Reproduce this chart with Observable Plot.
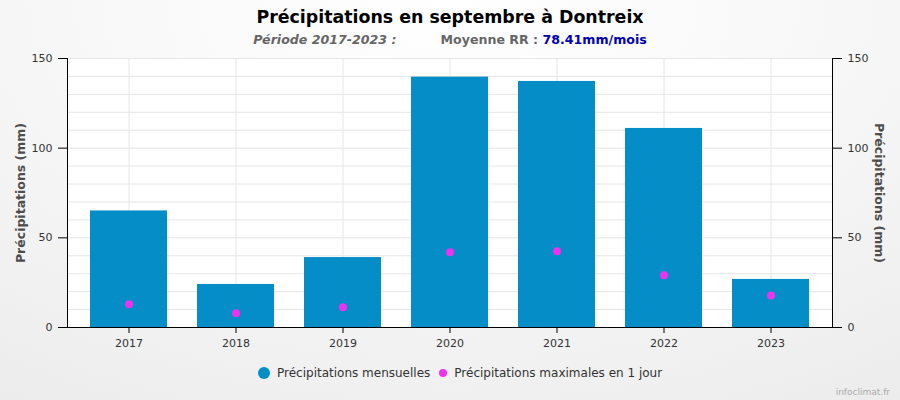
<!DOCTYPE html>
<html>
<head>
<meta charset="utf-8">
<script src="https://cdn.jsdelivr.net/npm/d3@7"></script>
<script src="https://cdn.jsdelivr.net/npm/@observablehq/plot@0.6"></script>
<style>
  html, body { margin: 0; padding: 0; }
  #chart {
    position: relative; width: 900px; height: 400px; overflow: hidden;
    background: radial-gradient(ellipse 90% 120% at 50% 0%, #ffffff 0%, #f8f8f8 45%, #ececec 100%);
    font-family: "DejaVu Sans", Verdana, sans-serif;
  }
  #title {
    position: absolute; left: 0; top: 7px; width: 900px; text-align: center;
    font-size: 17.4px; font-weight: bold; color: #000;
  }
  #subtitle {
    position: absolute; left: 0; top: 32px; width: 900px; text-align: center;
    font-size: 12.6px; font-weight: bold; color: #666;
  }
  #subtitle .per { font-style: italic; margin-right: 44px; }
  #subtitle .val { color: #0000b3; }
  #plot { position: absolute; left: 0; top: 0; }
  #legend {
    position: absolute; left: 258px; top: 365px; height: 16px;
    display: flex; align-items: center;
    font-size: 12px; color: #333; white-space: nowrap;
  }
  #legend .item { display: flex; align-items: center; margin-right: 9px; }
  #legend .sw { display: inline-block; border-radius: 50%; margin-right: 7px; }
  #credit {
    position: absolute; right: 10px; top: 387px; font-size: 9px; color: #aaa;
  }
</style>
</head>
<body>
<div id="chart">
  <div id="plot"></div>
  <div id="title">Précipitations en septembre à Dontreix</div>
  <div id="subtitle"><span class="per">Période 2017-2023 :</span>Moyenne RR : <span class="val">78.41mm/mois</span></div>
  <div id="legend"></div>
  <div id="credit">infoclimat.fr</div>
</div>
<script>
const years = ["2017", "2018", "2019", "2020", "2021", "2022", "2023"];
const monthly = [65, 24, 39, 139.6, 137.2, 111, 26.8];
const maxDaily = [13, 8, 11.3, 42, 42.5, 29.2, 17.8];
const seriesNames = ["Précipitations mensuelles", "Précipitations maximales en 1 jour"];
const seriesColors = ["#058DC7", "#EE33EE"];
const axisTitle = "Précipitations (mm)";
const yTicks = [0, 50, 100, 150];

const data = years.map((y, i) => ({year: y, monthly: monthly[i], max: maxDaily[i]}));

const chart = Plot.plot({
  width: 900,
  height: 400,
  marginTop: 58,
  marginBottom: 73,
  marginLeft: 67,
  marginRight: 68,
  style: {background: "transparent", fontFamily: "DejaVu Sans, Verdana, sans-serif", fontSize: "11px", color: "#333"},
  x: {type: "band", domain: years, paddingInner: 0.28, paddingOuter: 0.2, label: null},
  y: {domain: [0, 150], label: null},
  marks: [
    Plot.frame({fill: "white", stroke: null}),
    Plot.gridY(d3.range(0, 151, 10), {stroke: "#e6e6e6", strokeOpacity: 1}),
    Plot.gridX(years, {stroke: "#e6e6e6", strokeOpacity: 1}),
    Plot.barY(data, {x: "year", y: "monthly", fill: seriesColors[0]}),
    Plot.dot(data, {x: "year", y: "max", r: 4, fill: seriesColors[1], stroke: null}),
    Plot.ruleY([0], {stroke: "#000", strokeWidth: 1}),
    Plot.frame({anchor: "left", stroke: "#000", strokeOpacity: 1}),
    Plot.frame({anchor: "right", stroke: "#000", strokeOpacity: 1}),
    Plot.axisY({anchor: "left", ticks: yTicks, tickSize: 9, tickPadding: 6, label: null, stroke: "#000"}),
    Plot.axisY({anchor: "right", ticks: yTicks, tickSize: 9, tickPadding: 6, label: null, stroke: "#000"}),
    Plot.axisX({tickSize: 6, tickPadding: 6, label: null, stroke: "#000"}),
    Plot.text([axisTitle], {frameAnchor: "left", textAnchor: "middle", dx: -47, rotate: -90, fontWeight: "bold", fontSize: 12.5, fill: "#4d4d4d"}),
    Plot.text([axisTitle], {frameAnchor: "right", textAnchor: "middle", dx: 46, rotate: 90, fontWeight: "bold", fontSize: 12.5, fill: "#4d4d4d"})
  ]
});
document.getElementById("plot").appendChild(chart);

const legend = document.getElementById("legend");
seriesNames.forEach((name, i) => {
  const item = document.createElement("span");
  item.className = "item";
  const sw = document.createElement("span");
  sw.className = "sw";
  const s = i === 0 ? 12 : 8;
  sw.style.width = s + "px";
  sw.style.height = s + "px";
  sw.style.background = seriesColors[i];
  item.appendChild(sw);
  item.appendChild(document.createTextNode(name));
  legend.appendChild(item);
});
</script>
</body>
</html>
